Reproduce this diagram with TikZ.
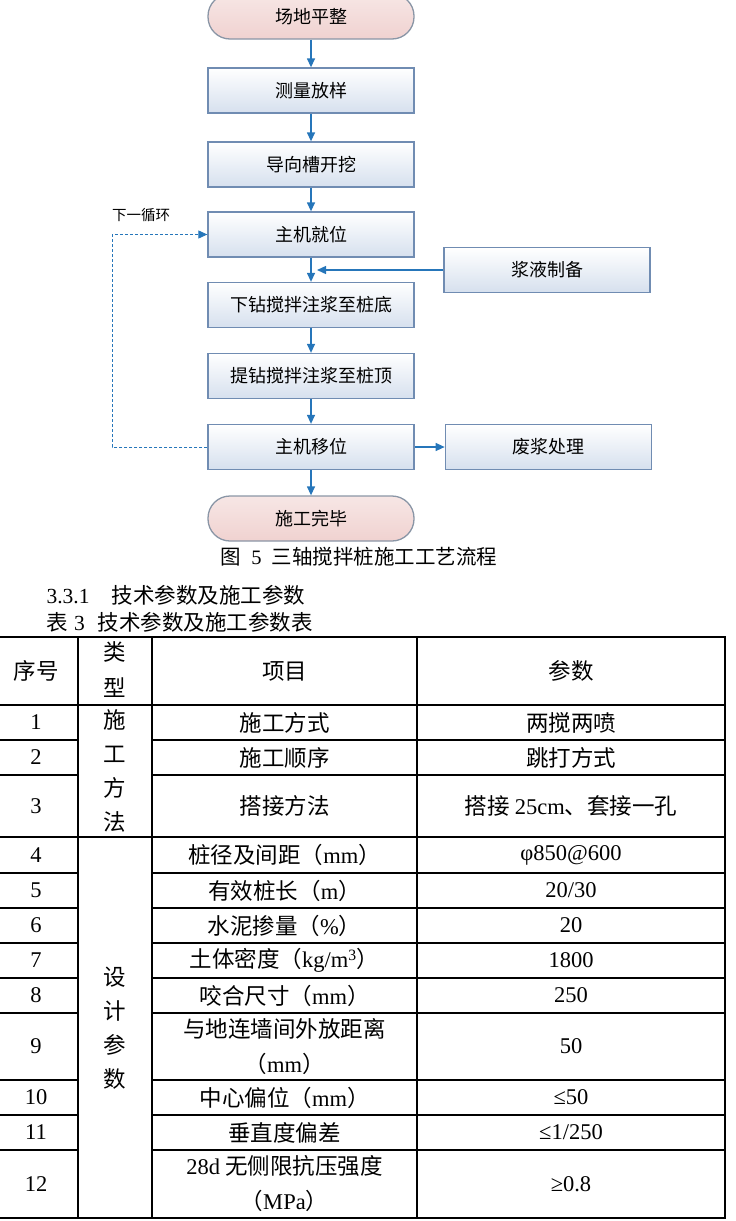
\documentclass[tikz,border=0pt]{standalone}
\usepackage{fontspec}
\setmainfont{Noto Sans CJK SC}
\newfontfamily\lat{Liberation Serif}
\usetikzlibrary{arrows.meta, positioning}

\definecolor{boxline}{RGB}{112,140,178}
\definecolor{boxshade}{RGB}{214,224,238}
\definecolor{termfill}{RGB}{240,210,208}
\definecolor{termline}{RGB}{138,150,166}
\definecolor{flowblue}{RGB}{38,118,186}

\newcommand{\en}[1]{{\lat #1}}

\tikzset{
  procbox/.style={draw=boxline, line width=1.3pt, top color=white, bottom color=boxshade,
    minimum width=206pt, minimum height=45pt, inner sep=0pt, font=\fontsize{18}{20}\selectfont},
  termbox/.style={procbox, draw=termline, rounded corners=22pt,
    top color=termfill!55!white, bottom color=termfill},
  flow/.style={draw=flowblue, line width=1.3pt, -{Triangle[length=9pt,width=8pt]}},
  loopline/.style={flow, line width=1pt, dash pattern=on 3pt off 2pt},
  cell/.style={font=\fontsize{22.5}{35}\selectfont, align=center, inner sep=0pt},
  tline/.style={line width=1.7pt},
}

\begin{document}
\begin{tikzpicture}[x=1pt, y=-1pt]
    \useasboundingbox (0,0) rectangle (736,1221);
    \clip (0,0) rectangle (736,1221);

    % 1. Hauptschritte des Ablaufs
    \node[termbox] (level)  at (311,16.5) {场地平整};
    \node[procbox] (survey) at (311,90.5) {测量放样};
    \node[procbox] (trench) at (311,164.5) {导向槽开挖};
    \node[procbox] (seat)   at (311,234.5) {主机就位};
    \node[procbox] (drill)  at (311,305) {下钻搅拌注浆至桩底};
    \node[procbox] (lift)   at (311,376) {提钻搅拌注浆至桩顶};
    \node[procbox] (move)   at (311,447) {主机移位};
    \node[termbox] (done)   at (311,518.5) {施工完毕};

    % 2. Nebenschritte
    \node[procbox] (slurry) at (547,270) {浆液制备};
    \node[procbox, right=30pt of move] (waste) {废浆处理};

    % 3. Pfeile
    \foreach \a/\b in {level/survey, survey/trench, trench/seat, seat/drill,
                       drill/lift, lift/move, move/done}
        \draw[flow] (\a.south) -- (\b.north);
    \coordinate (mixin) at (317,270);
    \draw[flow] (slurry.west) -- (mixin);
    \draw[flow] (move.east) -- (waste.west);

    % Schleife zum naechsten Pfahl
    \draw[loopline] (move.west) -- ++(-95,0) |- (seat.west);
    \node[font=\fontsize{14.5}{16}\selectfont] (nextcycle) at (141,215) {下一循环};

    % 4. Beschriftungen
    \node[font=\fontsize{20.5}{24}\selectfont] (caption) at (359,557)
        {图\hspace{10pt}\en{5}\hspace{10pt}三轴搅拌桩施工工艺流程};
    \node[anchor=west, font=\fontsize{21.5}{24}\selectfont] (section) at (43,595)
        {\en{3.3.1}\hspace{22pt}技术参数及施工参数};
    \node[anchor=west, font=\fontsize{21.5}{24}\selectfont] (tabtitle) at (43,622)
        {表\hspace{6pt}\en{3}\hspace{13pt}技术参数及施工参数表};

    % 5. Tabelle: Linien
    \draw[tline, line width=2.4pt] (-6,637) rectangle (725,1218);
    \foreach \x in {78,152,417}
        \draw[tline] (\x,637) -- (\x,1218);
    \foreach \y in {705,837}
        \draw[tline] (-6,\y) -- (725,\y);
    \foreach \y in {740,775,873,908,943,978,1013,1080,1115,1150} {
        \draw[tline] (-6,\y) -- (78,\y);
        \draw[tline] (152,\y) -- (725,\y);
    }

    % Kopfzeile
    \node[cell] (hno)   at (36,671) {序号};
    \node[cell, font=\fontsize{22.5}{36}\selectfont] (hkind) at (115,670) {类\\型};
    \node[cell] (hitem) at (284.5,671) {项目};
    \node[cell] (hval)  at (571,671) {参数};

    % Gruppen (verbundene Zellen)
    \node[cell, font=\fontsize{22.5}{34}\selectfont] (kind1) at (115,771) {施\\工\\方\\法};
    \node[cell, font=\fontsize{22.5}{34}\selectfont] (kind2) at (115,1028) {设\\计\\参\\数};

    % Zeilen
    \foreach \n/\y/\lbl/\val in {
        1/722.5/施工方式/两搅两喷,
        2/757.5/施工顺序/跳打方式,
        3/806/搭接方法/{搭接 \en{25cm}、套接一孔},
        4/855/{桩径及间距（\en{mm}）}/{\en{φ850@600}},
        5/890.5/{有效桩长（\en{m}）}/{\en{20/30}},
        6/925.5/{水泥掺量（\en{\%}）}/{\en{20}},
        7/960.5/{土体密度（\en{kg/m\textsuperscript{3}}）}/{\en{1800}},
        8/995.5/{咬合尺寸（\en{mm}）}/{\en{250}},
        9/1046.5/{与地连墙间外放距离\\（\en{mm}）}/{\en{50}},
        10/1097.5/{中心偏位（\en{mm}）}/{\en{≤50}},
        11/1132.5/垂直度偏差/{\en{≤1/250}},
        12/1184/{\en{28d} 无侧限抗压强度\\（\en{MPa}）}/{\en{≥0.8}}} {
        \node[cell] (no\n)   at (36,\y)    {\en{\n}};
        \node[cell] (item\n) at (284.5,\y) {\lbl};
        \node[cell] (val\n)  at (571,\y)   {\val};
    }

\end{tikzpicture}
\end{document}
